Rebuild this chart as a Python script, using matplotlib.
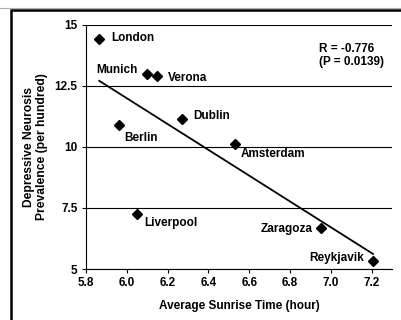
import numpy as np
import matplotlib.pyplot as plt
from matplotlib.patches import Rectangle

# data
cities = ['London', 'Munich', 'Verona', 'Berlin', 'Dublin', 'Amsterdam',
          'Liverpool', 'Zaragoza', 'Reykjavik']
sunrise = [5.865, 6.10, 6.148, 5.962, 6.27, 6.53, 6.05, 6.95, 7.207]
prevalence = [14.41, 12.99, 12.9, 10.9, 11.13, 10.12, 7.24, 6.67, 5.33]
xticks = [5.8, 6.0, 6.2, 6.4, 6.6, 6.8, 7.0, 7.2]
yticks = [5, 7.5, 10, 12.5, 15]
ytick_labels = ['5', '7.5', '10', '12.5', '15']
stats_text = 'R = -0.776\n(P = 0.0139)'

# label placement (pixel offsets from each point, alignment)
offsets = [(12, 1.5, 'left'), (-10, 4.5, 'right'), (11, -2, 'left'),
           (5, -12.5, 'left'), (11, 3.5, 'left'), (6, -9.5, 'left'),
           (7, -9, 'left'), (-8, -1, 'right'), (-9, 2.5, 'right')]

plt.rcParams['font.family'] = ['Liberation Sans', 'DejaVu Sans']
plt.rcParams['font.weight'] = 'bold'

fig = plt.figure(figsize=(4.02, 3.2), dpi=100)
ax = fig.add_axes([86/402, 1-269/320, 306/402, 244/320])

# outer frame (only top and left edges visible in the crop)
fig.add_artist(Rectangle((11/402, -0.1), 1.2, 1.1 - 10/320, transform=fig.transFigure,
                         fill=False, ec='black', lw=1.8))
fig.add_artist(plt.Line2D([0, 1], [1-7.5/320]*2, transform=fig.transFigure,
                          color='#b0b0b0', lw=0.8))

for y in yticks:
    ax.axhline(y, color='black', lw=0.8, zorder=1)

ax.plot(sunrise, prevalence, 'D', color='black', ms=5.6, zorder=3)

# least-squares trend line across the data range
slope, icpt = np.polyfit(sunrise, prevalence, 1)
xs = np.array([min(sunrise), max(sunrise)])
ax.plot(xs, slope*xs + icpt, color='black', lw=1.3, zorder=2)

for name, x, y, (dx, dy, ha) in zip(cities, sunrise, prevalence, offsets):
    ax.annotate(name, (x, y), xytext=(dx, dy), textcoords='offset pixels',
                ha=ha, va='center', fontsize=8.5, fontweight='bold')

ax.text(319/402, 1-43/320, stats_text, transform=fig.transFigure,
        ha='left', va='top', fontsize=8.5, fontweight='bold', linespacing=1.1)

ax.set_xlim(5.8, 7.3)
ax.set_ylim(5, 15)
ax.set_xticks(xticks)
ax.set_xticklabels([f'{t:.1f}' for t in xticks])
ax.set_yticks(yticks)
ax.set_yticklabels(ytick_labels)
ax.tick_params(axis='both', labelsize=8.5, length=3, width=0.8, direction='out', pad=3)
for s in ['top', 'right']:
    ax.spines[s].set_visible(False)
ax.spines['left'].set_linewidth(0.8)
ax.spines['bottom'].set_linewidth(0.8)

ax.set_xlabel('Average Sunrise Time (hour)', fontsize=8.5, fontweight='bold', labelpad=8)
ax.set_ylabel('Depressive Neurosis\nPrevalence (per hundred)', fontsize=8.7,
              fontweight='bold', labelpad=5, linespacing=1.05)

fig.savefig('out.png', dpi=100)
